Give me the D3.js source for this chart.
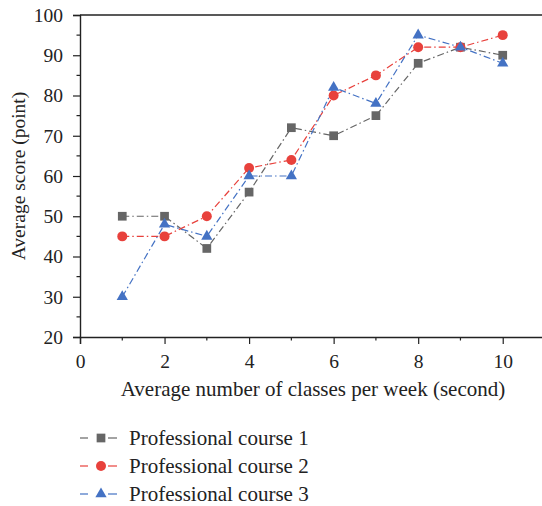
<!DOCTYPE html>
<html><head><meta charset="utf-8">
<script src="https://cdn.jsdelivr.net/npm/d3@7"></script>
<style>body{margin:0;background:#fff}svg{display:block}text{font-family:"Liberation Serif","DejaVu Serif",serif;fill:#222}</style>
</head><body><svg id="c" width="542" height="506"></svg>
<script>
const xValues = [1,2,3,4,5,6,7,8,9,10];
const course1 = [50,50,42,56,72,70,75,88,92,90];
const course2 = [45,45,50,62,64,80,85,92,92,95];
const course3 = [30,48,45,60,60,82,78,95,92,88];
const seriesNames = ["Professional course 1","Professional course 2","Professional course 3"];
const xTicks = [0,2,4,6,8,10];
const yTicks = [20,30,40,50,60,70,80,90,100];

const colors = ["#666666","#e8413c","#4472c4"];
const shapes = [d3.symbolSquare, d3.symbolCircle, d3.symbolTriangle];
const sizes = [76, 78, 55];
const svg = d3.select("#c");
const x = d3.scaleLinear().domain([0,11]).range([80,545]);
const y = d3.scaleLinear().domain([20,100]).range([337,15]);

const g = svg.append("g");
g.selectAll(".ym").data(d3.range(25,100,10)).join("line")
  .attr("x1",80).attr("x2",76.5).attr("y1",d=>y(d)).attr("y2",d=>y(d)).attr("stroke","#222").attr("stroke-width",1.2);
g.selectAll(".xm").data(d3.range(1,11,2)).join("line")
  .attr("y1",337).attr("y2",340.5).attr("x1",d=>x(d)).attr("x2",d=>x(d)).attr("stroke","#222").attr("stroke-width",1.2);

const yAxis = svg.append("g").attr("transform","translate(80,0)")
  .call(d3.axisLeft(y).tickValues(yTicks).tickSize(7).tickPadding(10));
const xAxis = svg.append("g").attr("transform","translate(0,337)")
  .call(d3.axisBottom(x).tickValues(xTicks).tickSize(7).tickPadding(10));
[yAxis,xAxis].forEach(a=>{
  a.select(".domain").attr("stroke","#222").attr("stroke-width",1.4);
  a.selectAll(".tick line").attr("stroke","#222").attr("stroke-width",1.2);
  a.selectAll("text").style("font-family",'"Liberation Serif",serif').attr("font-size",19.5).attr("fill","#222");
});
svg.append("line").attr("x1",80).attr("x2",542).attr("y1",15).attr("y2",15).attr("stroke","#222").attr("stroke-width",1.4);

svg.append("text").attr("transform","translate(25,176) rotate(-90)").attr("text-anchor","middle").attr("font-size",19.5).text("Average score (point)");
svg.append("text").attr("x",313).attr("y",396).attr("text-anchor","middle").attr("font-size",21).text("Average number of classes per week (second)");

const data = [course1,course2,course3];
const line = d3.line().x((d,i)=>x(xValues[i])).y(d=>y(d));
data.forEach((s,k)=>{
  svg.append("path").datum(s).attr("d",line).attr("fill","none").attr("stroke",colors[k])
    .attr("stroke-width",1.2).attr("stroke-dasharray","7,3,1.5,3");
});
data.forEach((s,k)=>{
  svg.selectAll(null).data(s).join("path")
    .attr("transform",(d,i)=>`translate(${x(xValues[i])},${y(d)})`)
    .attr("d",d3.symbol().type(shapes[k]).size(sizes[k])).attr("fill",colors[k]);
});

seriesNames.forEach((n,k)=>{
  const ly = 438 + k*28;
  const lg = svg.append("g");
  lg.append("line").attr("x1",80).attr("x2",88).attr("y1",ly).attr("y2",ly).attr("stroke",colors[k]).attr("stroke-width",1.2);
  lg.append("line").attr("x1",108).attr("x2",117).attr("y1",ly).attr("y2",ly).attr("stroke",colors[k]).attr("stroke-width",1.2);
  lg.append("path").attr("transform",`translate(101,${ly})`).attr("d",d3.symbol().type(shapes[k]).size(sizes[k])).attr("fill",colors[k]);
  lg.append("text").attr("x",129).attr("y",ly+7).attr("font-size",21).text(n);
});
</script></body></html>
